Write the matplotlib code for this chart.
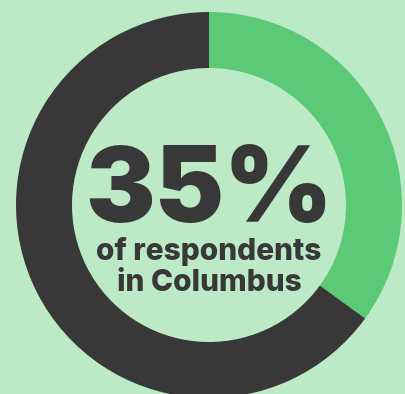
import matplotlib
matplotlib.use("Agg")
import matplotlib.pyplot as plt

# share of respondents
labels = ["Columbus", "Other"]
values = [35, 65]
colors = ["#5cc977", "#383838"]
bg = "#bdeac6"

big_text = "35%"
sub_text = "of respondents\nin Columbus"

fig = plt.figure(figsize=(4.06, 3.94), dpi=100)
fig.patch.set_facecolor(bg)
ax = fig.add_axes([0, 0, 1, 1])
ax.set_facecolor(bg)

# pixel coords, y going up
ax.pie(values, colors=colors, startangle=90, counterclock=False,
       radius=193, center=(209, 189),
       wedgeprops=dict(width=56, linewidth=0))
ax.set_xlim(0, 406)
ax.set_ylim(0, 394)
ax.set_aspect("equal")
ax.axis("off")

ax.text(209, 394 - 222, big_text, ha="center", va="baseline",
        fontsize=75, fontweight="black", family=["Inter", "DejaVu Sans"],
        color="#383838")
ax.text(209, 394 - 267, sub_text, ha="center", va="center",
        fontsize=21.5, fontweight="heavy", family=["Inter", "DejaVu Sans"],
        color="#383838", linespacing=1.15)

fig.savefig("out.png", dpi=100, facecolor=bg)
